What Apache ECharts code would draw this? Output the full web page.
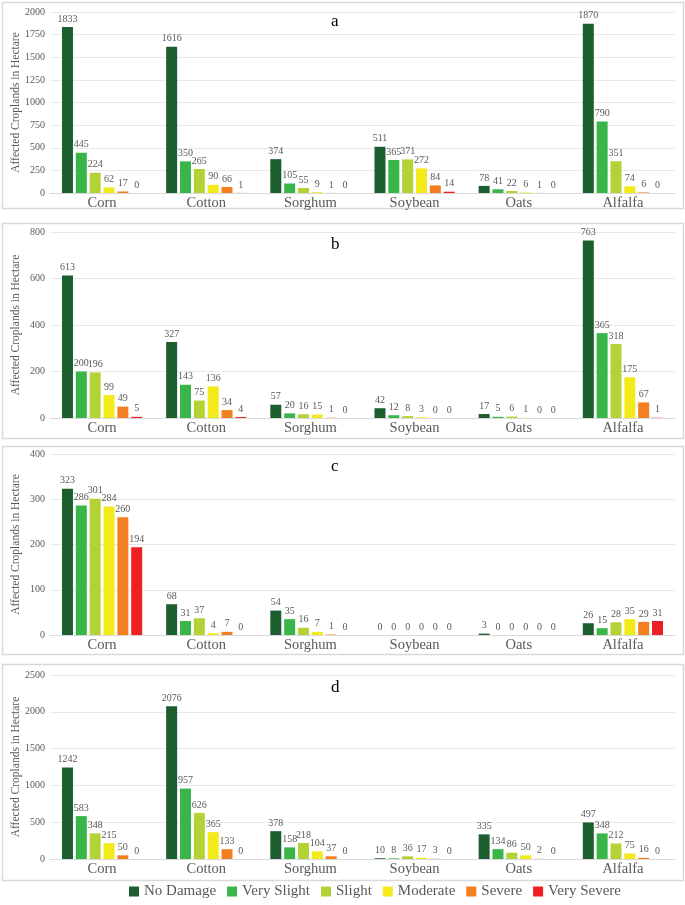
<!DOCTYPE html>
<html>
<head>
<meta charset="utf-8">
<script src="https://cdn.jsdelivr.net/npm/echarts@6/dist/echarts.min.js"></script>
<style>
html,body{margin:0;padding:0;background:#fff;}
#chart{width:685px;height:905px;}
</style>
</head>
<body>
<div id="chart"></div>
<script>
const crops = ['Corn', 'Cotton', 'Sorghum', 'Soybean', 'Oats', 'Alfalfa'];
const levels = ['No Damage', 'Very Slight', 'Slight', 'Moderate', 'Severe', 'Very Severe'];
const levelColors = ['#1d5e2e', '#39b54a', '#b3d235', '#f3ea1c', '#f47f20', '#ed2024'];
const panelNames = ['a', 'b', 'c', 'd'];

// rows = damage levels, columns = crops
const panelA = [
  [1833, 1616, 374, 511, 78, 1870],
  [445, 350, 105, 365, 41, 790],
  [224, 265, 55, 371, 22, 351],
  [62, 90, 9, 272, 6, 74],
  [17, 66, 1, 84, 1, 6],
  [0, 1, 0, 14, 0, 0]
];
const panelB = [
  [613, 327, 57, 42, 17, 763],
  [200, 143, 20, 12, 5, 365],
  [196, 75, 16, 8, 6, 318],
  [99, 136, 15, 3, 1, 175],
  [49, 34, 1, 0, 0, 67],
  [5, 4, 0, 0, 0, 1]
];
const panelC = [
  [323, 68, 54, 0, 3, 26],
  [286, 31, 35, 0, 0, 15],
  [301, 37, 16, 0, 0, 28],
  [284, 4, 7, 0, 0, 35],
  [260, 7, 1, 0, 0, 29],
  [194, 0, 0, 0, 0, 31]
];
const panelD = [
  [1242, 2076, 378, 10, 335, 497],
  [583, 957, 158, 8, 134, 348],
  [348, 626, 218, 36, 86, 212],
  [215, 365, 104, 17, 50, 75],
  [50, 133, 37, 3, 2, 16],
  [0, 0, 0, 0, 0, 0]
];
const yMax = [2000, 800, 400, 2500];
const yStep = [250, 200, 100, 500];

const panels = [panelA, panelB, panelC, panelD];
const layout = [
  {top: 12, height: 181, box: [2, 2, 681, 206]},
  {top: 232, height: 186, box: [2, 223, 681, 215]},
  {top: 454, height: 181, box: [2, 446, 681, 208]},
  {top: 675, height: 184, box: [2, 664, 681, 216]}
];
const serif = 'Liberation Serif';
const legendText = {fontFamily: serif, fontSize: 15, color: '#595959'};

const chart = echarts.init(document.getElementById('chart'), null, {renderer: 'canvas'});
const grids = [], xAxes = [], yAxes = [], series = [], graphics = [];

layout.forEach((L, p) => {
  grids.push({left: 50, right: 10, top: L.top, height: L.height,
    containLabel: false, outerBoundsMode: 'none'});
  graphics.push({
    type: 'rect', z: -1,
    shape: {x: L.box[0] + 0.5, y: L.box[1] + 0.5, width: L.box[2], height: L.box[3]},
    style: {fill: 'none', stroke: '#d9d9d9', lineWidth: 1.5}
  });
  graphics.push({
    type: 'text', left: 331, top: L.top + (p === 0 ? 1 : 4),
    style: {text: panelNames[p], font: '17px "Liberation Serif"', fill: '#000'}
  });
  xAxes.push({
    type: 'category', gridIndex: p, data: crops,
    axisTick: {show: false},
    axisLine: {lineStyle: {color: '#d9d9d9', width: 1}},
    axisLabel: {fontFamily: serif, fontSize: 14.5, color: '#595959', margin: 3}
  });
  yAxes.push({
    type: 'value', gridIndex: p, min: 0, max: yMax[p], interval: yStep[p],
    name: 'Affected Croplands in Hectare', nameLocation: 'middle', nameGap: 28,
    nameMoveOverlap: false,
    nameTextStyle: {fontFamily: serif, fontSize: 11.5, color: '#595959'},
    axisLabel: {fontFamily: serif, fontSize: 10, color: '#595959', margin: 5,
      formatter: v => String(v)},
    axisLine: {show: false}, axisTick: {show: false},
    splitLine: {lineStyle: {color: '#e8e8e8', width: 1}}
  });
  levels.forEach((lv, i) => {
    series.push({
      type: 'bar', name: lv, xAxisIndex: p, yAxisIndex: p,
      data: panels[p][i],
      barGap: '26%', barCategoryGap: '23%',
      itemStyle: {color: levelColors[i]},
      label: {
        show: true, position: 'top', distance: 3,
        fontFamily: serif, fontSize: 10, color: '#595959'
      },
      emphasis: {disabled: true},
      animation: false
    });
  });
});

chart.setOption({
  animation: false,
  color: levelColors,
  textStyle: {fontFamily: serif},
  grid: grids, xAxis: xAxes, yAxis: yAxes, series: series,
  graphic: graphics,
  legend: {
    data: levels.map(n => ({name: n, textStyle: legendText})),
    bottom: 1, left: 124,
    itemWidth: 10, itemHeight: 10, itemGap: 11,
    icon: 'rect',
    textStyle: legendText
  }
});
</script>
</body>
</html>
